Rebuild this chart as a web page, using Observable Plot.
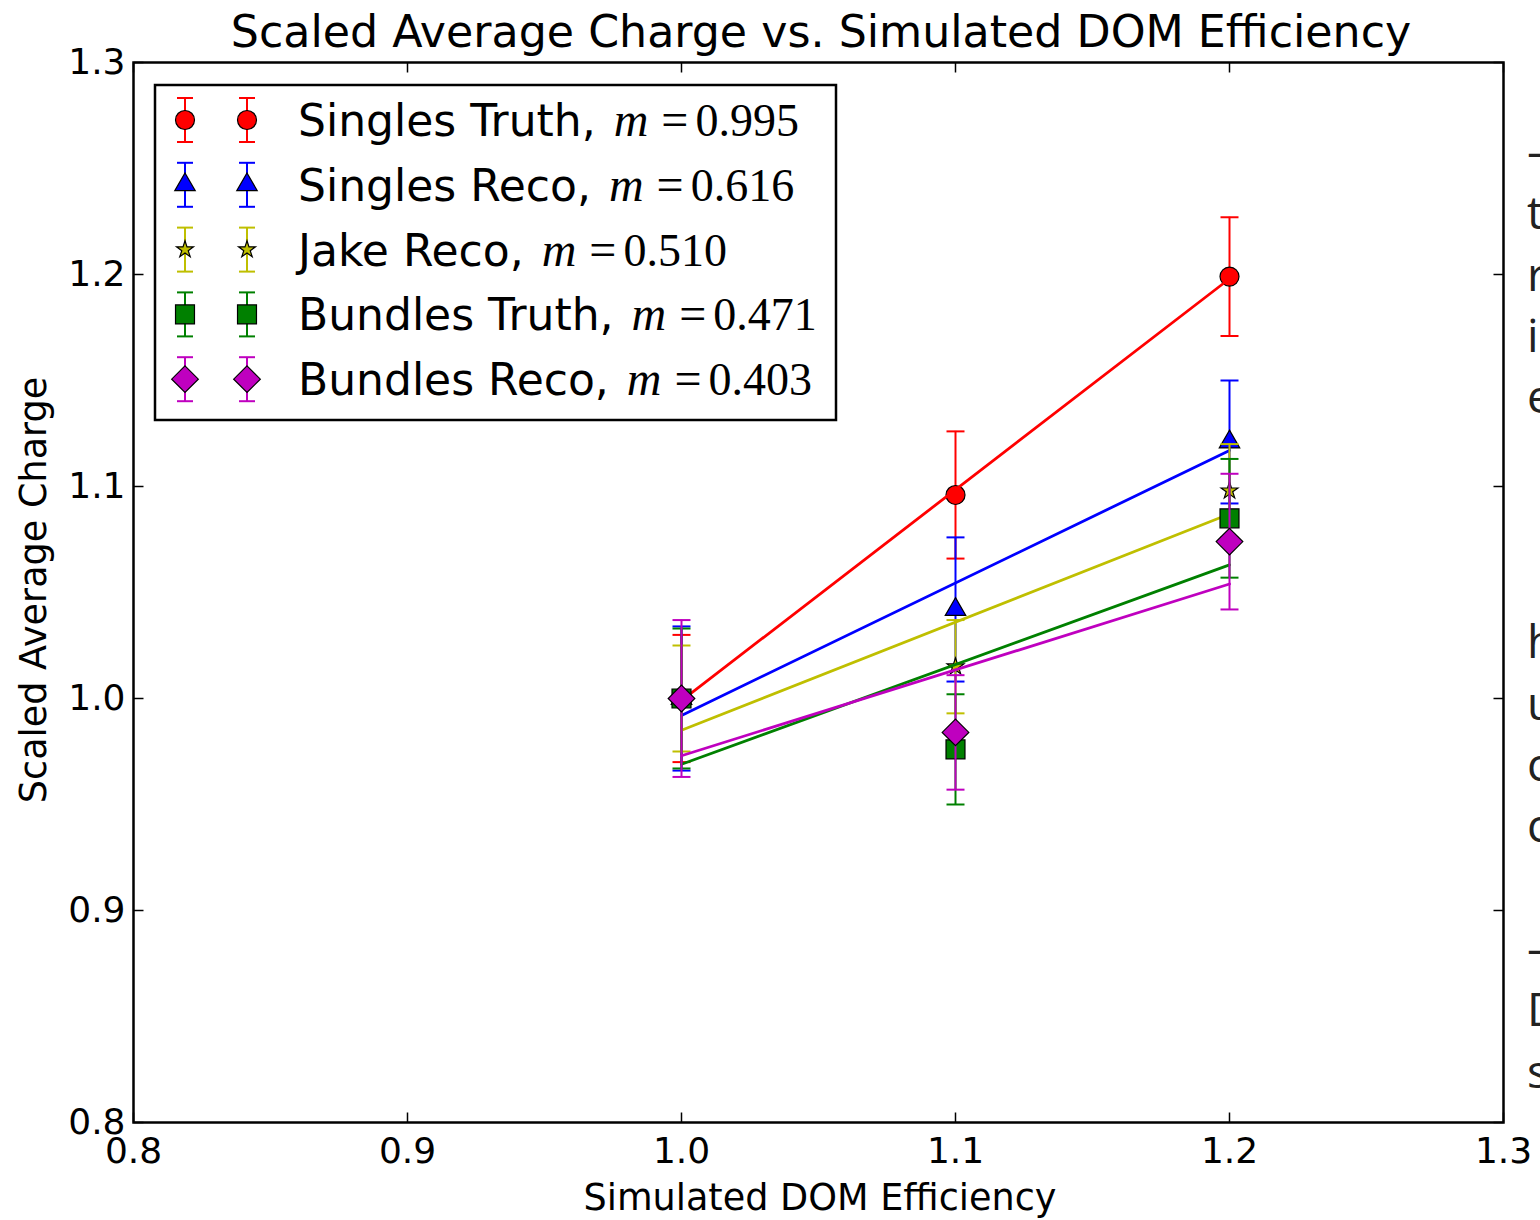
<!DOCTYPE html>
<html><head><meta charset="utf-8">
<script src="https://cdn.jsdelivr.net/npm/d3@7"></script>
<script src="https://cdn.jsdelivr.net/npm/@observablehq/plot@0.6"></script>
<style>
html,body{margin:0;padding:0;background:#fff;}
#wrap{position:relative;width:1540px;height:1220px;overflow:hidden;background:#fff;}
#wrap svg{position:absolute;left:0;top:0;}
</style></head><body><div id="wrap"></div>
<script>
// ---- data ----
const efficiency = [1.0, 1.1, 1.2];
const fitRange = [1.0, 1.2];
const xTicks = [0.8, 0.9, 1.0, 1.1, 1.2, 1.3];
const yTicks = [0.8, 0.9, 1.0, 1.1, 1.2, 1.3];
const seriesNames = ["Singles Truth", "Singles Reco", "Jake Reco", "Bundles Truth", "Bundles Reco"];
const slopeLabels = ["0.995", "0.616", "0.510", "0.471", "0.403"];
const singlesTruth = [1.000, 1.096, 1.199];
const singlesTruthErr = [0.030, 0.030, 0.028];
const singlesTruthFit = [0.999, 1.198];
const singlesReco = [1.000, 1.042, 1.121];
const singlesRecoErr = [0.034, 0.034, 0.029];
const singlesRecoFit = [0.992, 1.117];
const jakeReco = [1.000, 1.015, 1.098];
const jakeRecoErr = [0.025, 0.022, 0.022];
const jakeRecoFit = [0.985, 1.087];
const bundlesTruth = [1.000, 0.976, 1.085];
const bundlesTruthErr = [0.033, 0.026, 0.028];
const bundlesTruthFit = [0.969, 1.063];
const bundlesReco = [1.000, 0.984, 1.074];
const bundlesRecoErr = [0.037, 0.027, 0.032];
const bundlesRecoFit = [0.973, 1.054];
const sideText = ["–", "t", "r", "i", "e", "", "", "", "h", "u", "c", "c", "", "–", "D", "s"];

// ---- styles ----
const colors = ["#ff0000", "#0000ff", "#bfbf00", "#008000", "#bf00bf"];
const symbols = ["circle", "triangle", "star", "square", "diamond2"];
const symbolR = [9.5, 7.6, 5.3, 10.7, 12];
const values = [singlesTruth, singlesReco, jakeReco, bundlesTruth, bundlesReco];
const errors = [singlesTruthErr, singlesRecoErr, jakeRecoErr, bundlesTruthErr, bundlesRecoErr];
const fits = [singlesTruthFit, singlesRecoFit, jakeRecoFit, bundlesTruthFit, bundlesRecoFit];

const capSym = {draw(ctx) { ctx.moveTo(-9, 0); ctx.lineTo(9, 0); }};
const tickUp = {draw(ctx) { ctx.moveTo(0, 0); ctx.lineTo(0, -10); }};
const tickDown = {draw(ctx) { ctx.moveTo(0, 0); ctx.lineTo(0, 10); }};
const tickRight = {draw(ctx) { ctx.moveTo(0, 0); ctx.lineTo(10, 0); }};
const tickLeft = {draw(ctx) { ctx.moveTo(0, 0); ctx.lineTo(-10, 0); }};

const seriesMarks = [];
seriesNames.forEach((name, i) => {
  const rows = efficiency.map((x, j) => ({x, y: values[i][j], lo: values[i][j] - errors[i][j], hi: values[i][j] + errors[i][j]}));
  const fitRows = fitRange.map((x, j) => ({x, y: fits[i][j]}));
  seriesMarks.push(
    Plot.ruleX(rows, {x: "x", y1: "lo", y2: "hi", stroke: colors[i], strokeWidth: 2}),
    Plot.dot(rows, {x: "x", y: "lo", symbol: capSym, stroke: colors[i], strokeWidth: 2, fill: "none"}),
    Plot.dot(rows, {x: "x", y: "hi", symbol: capSym, stroke: colors[i], strokeWidth: 2, fill: "none"}),
    Plot.dot(rows, {x: "x", y: "y", symbol: symbols[i], r: symbolR[i], fill: colors[i], stroke: "#000", strokeWidth: 1.2}),
    Plot.line(fitRows, {x: "x", y: "y", stroke: colors[i], strokeWidth: 2.8})
  );
});

const fmt = d3.format(".1f");
const chart = Plot.plot({
  width: 1540, height: 1220,
  marginLeft: 133, marginRight: 37, marginTop: 62, marginBottom: 98,
  style: {fontFamily: "DejaVu Sans", fontSize: "36px", color: "#000", background: "#fff", overflow: "visible"},
  x: {domain: [0.8, 1.3], label: null},
  y: {domain: [0.8, 1.3], label: null},
  marks: [
    Plot.axisX({anchor: "bottom", ticks: xTicks, tickSize: 0, tickPadding: 15, tickFormat: fmt, label: null, fontSize: 36}),
    Plot.axisY({anchor: "left", ticks: yTicks, tickSize: 0, tickPadding: 8, tickFormat: fmt, label: null, fontSize: 36}),
    Plot.dot(xTicks, {x: d => d, frameAnchor: "bottom", symbol: tickUp, stroke: "#000", strokeWidth: 1.5, fill: "none"}),
    Plot.dot(xTicks, {x: d => d, frameAnchor: "top", symbol: tickDown, stroke: "#000", strokeWidth: 1.5, fill: "none"}),
    Plot.dot(yTicks, {y: d => d, frameAnchor: "left", symbol: tickRight, stroke: "#000", strokeWidth: 1.5, fill: "none"}),
    Plot.dot(yTicks, {y: d => d, frameAnchor: "right", symbol: tickLeft, stroke: "#000", strokeWidth: 1.5, fill: "none"}),
    ...seriesMarks,
    Plot.frame({stroke: "#000", strokeWidth: 2.5})
  ]
});
const wrap = document.getElementById("wrap");
wrap.appendChild(chart);

// ---- overlay: title, axis labels, legend, side text ----
const svg = d3.select(wrap).append("svg")
  .attr("width", 1540).attr("height", 1220)
  .style("pointer-events", "none");

svg.append("text").attr("x", 821).attr("y", 47).attr("text-anchor", "middle")
  .attr("font-family", "DejaVu Sans").attr("font-size", 44.3).attr("fill", "#000")
  .text("Scaled Average Charge vs. Simulated DOM Efficiency");
svg.append("text").attr("x", 820).attr("y", 1210).attr("text-anchor", "middle")
  .attr("font-family", "DejaVu Sans").attr("font-size", 36.6).attr("fill", "#000")
  .text("Simulated DOM Efficiency");
svg.append("text").attr("transform", "translate(46,590) rotate(-90)").attr("text-anchor", "middle")
  .attr("font-family", "DejaVu Sans").attr("font-size", 36.6).attr("fill", "#000")
  .text("Scaled Average Charge");

// legend
const lg = svg.append("g");
lg.append("rect").attr("x", 155).attr("y", 85).attr("width", 681).attr("height", 335)
  .attr("fill", "#fff").attr("stroke", "#000").attr("stroke-width", 2.5);
const d3Sym = {circle: d3.symbolCircle, triangle: d3.symbolTriangle, star: d3.symbolStar, square: d3.symbolSquare, diamond2: d3.symbolDiamond2};
seriesNames.forEach((name, i) => {
  const cy = 120 + i * 64.8;
  [185, 247].forEach(cx => {
    lg.append("line").attr("x1", cx).attr("x2", cx).attr("y1", cy - 22).attr("y2", cy + 22)
      .attr("stroke", colors[i]).attr("stroke-width", 2);
    [cy - 22, cy + 22].forEach(yy => lg.append("line").attr("x1", cx - 8).attr("x2", cx + 8).attr("y1", yy).attr("y2", yy)
      .attr("stroke", colors[i]).attr("stroke-width", 2));
    lg.append("path").attr("transform", `translate(${cx},${cy})`)
      .attr("d", d3.symbol(d3Sym[symbols[i]], Math.PI * symbolR[i] * symbolR[i])())
      .attr("fill", colors[i]).attr("stroke", "#000").attr("stroke-width", 1.2);
  });
  const t = lg.append("text").attr("x", 298).attr("y", cy + 16)
    .attr("font-family", "DejaVu Sans").attr("font-size", 44).attr("fill", "#000");
  t.append("tspan").text(name + ", ");
  t.append("tspan").attr("font-family", "Liberation Serif").attr("font-style", "italic").attr("font-size", 48).attr("dx", 4).text("m");
  t.append("tspan").attr("font-family", "Liberation Serif").attr("font-size", 48).attr("dx", 13).text("=");
  t.append("tspan").attr("font-family", "Liberation Serif").attr("font-size", 46).attr("dx", 7).text(slopeLabels[i]);
});

// cropped neighbouring text at right edge
sideText.forEach((s, k) => {
  if (!s) return;
  svg.append("text").attr("x", 1527).attr("y", 168 + k * 61.3)
    .attr("font-family", "Open Sans").attr("font-size", 46).attr("fill", "#222").text(s);
});
</script></body></html>
